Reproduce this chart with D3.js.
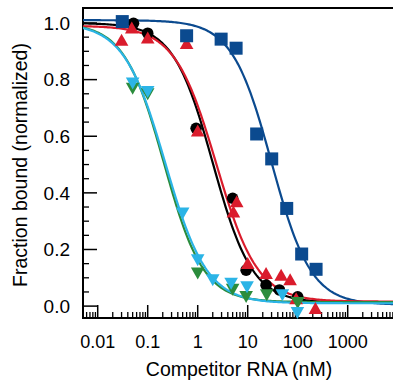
<!DOCTYPE html>
<html>
<head>
<meta charset="utf-8">
<script src="https://cdn.jsdelivr.net/npm/d3@7"></script>
<style>
  body { margin: 0; background: #fff; }
  svg { display: block; font-family: "Liberation Sans", Arial, sans-serif; }
</style>
</head>
<body>
<svg id="chart" width="393" height="383"></svg>
<script>
// competitor concentrations (nM) and normalized fraction bound
const blueConc = [0.031, 0.60, 2.94, 5.86, 15.1, 30.2, 60.3, 120, 233];
const blueFrac = [1.005, 0.955, 0.943, 0.911, 0.608, 0.52, 0.345, 0.184, 0.13];

const blackConc = [0.052, 0.1, 0.93, 5.0, 9.3, 23.3, 43, 100];
const blackFrac = [0.999, 0.964, 0.628, 0.381, 0.127, 0.074, 0.057, 0.033];

const redConc = [0.048, 0.030, 0.1, 0.6, 1.0, 6.03, 5.18, 10, 23.3, 46.6, 70.5, 93, 226];
const redFrac = [0.983, 0.94, 0.948, 0.928, 0.619, 0.369, 0.333, 0.151, 0.116, 0.11, 0.094, 0.027, -0.008];

const greenConc = [0.05, 0.1, 1.0, 5.0, 9.3, 24, 100];
const greenFrac = [0.769, 0.749, 0.116, 0.059, 0.033, 0.039, 0.012];

const cyanConc = [0.05, 0.1, 0.5, 1.0, 2.0, 4.66, 9.7, 49.4, 98.6];
const cyanFrac = [0.787, 0.757, 0.328, 0.163, 0.092, 0.08, 0.068, 0.039, -0.023];

// fitted dose-response parameters: blue, black, red, green, cyan
const fitNames = ['blue', 'black', 'red', 'green', 'cyan'];
const fitTop = [1.01, 1.0, 0.99, 1.0, 1.0];
const fitBottom = [0.005, 0.012, 0.016, 0.014, 0.01];
const fitIC50 = [30, 2.0, 2.35, 0.21, 0.225];
const fitHill = [1.1, 1.1, 1.05, 1.1, 1.05];

const xTicks = [0.01, 0.1, 1, 10, 100, 1000];
const yTicks = [0, 0.2, 0.4, 0.6, 0.8, 1.0];

const colors = {
  blue: '#0b4a8f',
  black: '#000000',
  red: '#da1c2c',
  green: '#2b8c3c',
  cyan: '#2bb4e6'
};

const svg = d3.select('#chart');
const plotLeft = 83, plotRight = 393, plotTop = 8, plotBottom = 318;

const x = d3.scaleLog().domain([0.00508, 8050]).range([plotLeft, plotRight]);
const y = d3.scaleLinear().domain([-0.042, 1.053]).range([plotBottom, plotTop]);

svg.append('defs').append('clipPath').attr('id', 'plot')
  .append('rect').attr('x', plotLeft).attr('y', plotTop)
  .attr('width', plotRight - plotLeft).attr('height', plotBottom - plotTop);

// minor ticks (inward)
const xMinor = [];
for (let e = -3; e <= 3; e++) {
  for (let m = 2; m <= 9; m++) {
    const v = m * Math.pow(10, e);
    if (v > x.domain()[0] && v < x.domain()[1]) xMinor.push(v);
  }
}
const yMinor = d3.range(0, 20).map(i => 0.05 * i).filter((v, i) => i % 4 !== 0);

const axisG = svg.append('g');
axisG.selectAll('line.xminor').data(xMinor).enter().append('line')
  .attr('x1', d => x(d)).attr('x2', d => x(d))
  .attr('y1', plotBottom).attr('y2', plotBottom - 6)
  .attr('stroke', '#000').attr('stroke-width', 1.3);
axisG.selectAll('line.xmajor').data(xTicks).enter().append('line')
  .attr('x1', d => x(d)).attr('x2', d => x(d))
  .attr('y1', plotBottom).attr('y2', plotBottom - 13)
  .attr('stroke', '#000').attr('stroke-width', 1.5);
axisG.selectAll('line.yminor').data(yMinor).enter().append('line')
  .attr('x1', plotLeft).attr('x2', plotLeft + 6)
  .attr('y1', d => y(d)).attr('y2', d => y(d))
  .attr('stroke', '#000').attr('stroke-width', 1.3);
axisG.selectAll('line.ymajor').data(yTicks).enter().append('line')
  .attr('x1', plotLeft).attr('x2', plotLeft + 14)
  .attr('y1', d => y(d)).attr('y2', d => y(d))
  .attr('stroke', '#000').attr('stroke-width', 1.5);

// frame: left, bottom, top
axisG.append('path')
  .attr('d', `M${plotRight},${plotTop}H${plotLeft}V${plotBottom}H${plotRight}`)
  .attr('fill', 'none').attr('stroke', '#000').attr('stroke-width', 2);

// tick labels
axisG.selectAll('text.xl').data(xTicks).enter().append('text')
  .attr('x', d => x(d)).attr('y', 348)
  .attr('text-anchor', 'middle').attr('font-size', 18)
  .text(d => d3.format('~g')(d));
axisG.selectAll('text.yl').data(yTicks).enter().append('text')
  .attr('x', 70).attr('y', d => y(d)).attr('dy', '0.35em')
  .attr('text-anchor', 'end').attr('font-size', 19)
  .text(d => d.toFixed(1));

svg.append('text').attr('x', 239).attr('y', 376)
  .attr('text-anchor', 'middle').attr('font-size', 19.5)
  .text('Competitor RNA (nM)');
svg.append('text').attr('transform', 'translate(27,165) rotate(-90)')
  .attr('text-anchor', 'middle').attr('font-size', 19.5)
  .text('Fraction bound (normalized)');

// fitted curves
const curveX = d3.range(0, 201).map(i => x.invert(plotLeft + i * (plotRight - plotLeft) / 200));
const line = d3.line().x(d => x(d[0])).y(d => y(d[1]));
const curveG = svg.append('g').attr('clip-path', 'url(#plot)');
fitNames.forEach((name, i) => {
  const curve = curveX.map(c => [c, fitBottom[i] + (fitTop[i] - fitBottom[i]) / (1 + Math.pow(c / fitIC50[i], fitHill[i]))]);
  curveG.append('path').datum(curve)
    .attr('d', line)
    .attr('fill', 'none')
    .attr('stroke', colors[name])
    .attr('stroke-width', 2.2);
});

// markers
const pairs = (cs, fs) => cs.map((c, i) => [c, fs[i]]);
const markG = svg.append('g');

markG.selectAll('circle.black').data(pairs(blackConc, blackFrac)).enter().append('circle')
  .attr('cx', d => x(d[0])).attr('cy', d => y(d[1])).attr('r', 5.8)
  .attr('fill', colors.black);

const upTri = 'M0,-6.3L6.8,5.7L-6.8,5.7Z';
const downTri = 'M-6.8,-5.7L6.8,-5.7L0,6.3Z';

markG.selectAll('path.red').data(pairs(redConc, redFrac)).enter().append('path')
  .attr('d', upTri)
  .attr('transform', d => `translate(${x(d[0])},${y(d[1])})`)
  .attr('fill', colors.red);

markG.selectAll('path.green').data(pairs(greenConc, greenFrac)).enter().append('path')
  .attr('d', downTri)
  .attr('transform', d => `translate(${x(d[0])},${y(d[1])})`)
  .attr('fill', colors.green);

markG.selectAll('path.cyan').data(pairs(cyanConc, cyanFrac)).enter().append('path')
  .attr('d', downTri)
  .attr('transform', d => `translate(${x(d[0])},${y(d[1])})`)
  .attr('fill', colors.cyan);

markG.selectAll('rect.blue').data(pairs(blueConc, blueFrac)).enter().append('rect')
  .attr('x', d => x(d[0]) - 6.5).attr('y', d => y(d[1]) - 6.5)
  .attr('width', 13).attr('height', 13)
  .attr('fill', colors.blue);
</script>
</body>
</html>
